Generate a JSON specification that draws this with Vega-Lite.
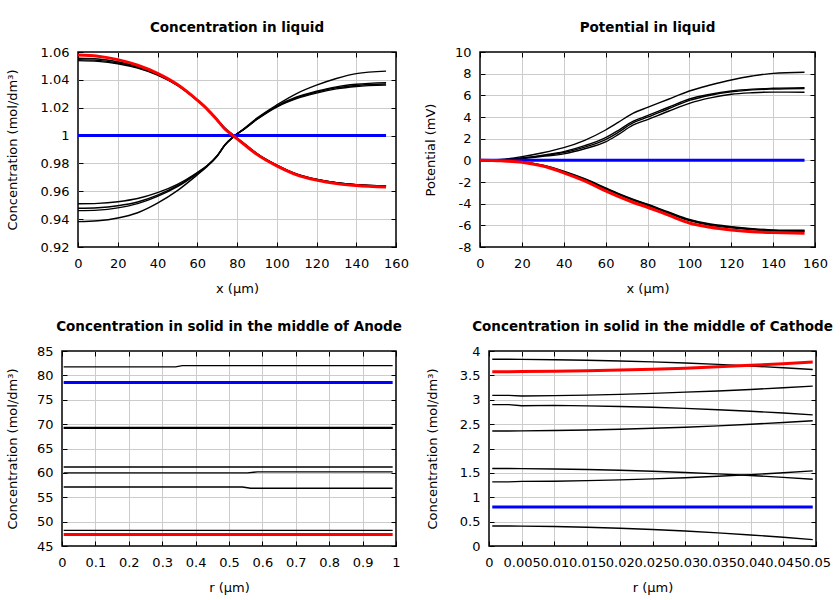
{
  "$schema": "https://vega.github.io/schema/vega-lite/v6.json",
  "background": "white",
  "padding": {"left": 4, "top": 19, "right": 0, "bottom": 0},
  "datasets": {
    "p1": [
      {"s":0,"x":0,"y":1.0},{"s":0,"x":155,"y":1.0},
      {"s":1,"x":0,"y":1.0555},{"s":1,"x":10,"y":1.0550},{"s":1,"x":20,"y":1.0530},{"s":1,"x":30,"y":1.0495},{"s":1,"x":40,"y":1.0442},{"s":1,"x":50,"y":1.0365},{"s":1,"x":60,"y":1.0255},{"s":1,"x":65,"y":1.0191},{"s":1,"x":70,"y":1.0115},{"s":1,"x":74,"y":1.0050},{"s":1,"x":78,"y":1.0003},{"s":1,"x":84,"y":0.9936},{"s":1,"x":90,"y":0.9869},{"s":1,"x":100,"y":0.9786},{"s":1,"x":110,"y":0.9722},{"s":1,"x":120,"y":0.9685},{"s":1,"x":130,"y":0.9661},{"s":1,"x":140,"y":0.9647},{"s":1,"x":155,"y":0.9637},
      {"s":2,"x":0,"y":1.0545},{"s":2,"x":10,"y":1.0540},{"s":2,"x":20,"y":1.0522},{"s":2,"x":30,"y":1.0489},{"s":2,"x":40,"y":1.0438},{"s":2,"x":50,"y":1.0362},{"s":2,"x":60,"y":1.0253},{"s":2,"x":65,"y":1.0190},{"s":2,"x":70,"y":1.0115},{"s":2,"x":74,"y":1.0052},{"s":2,"x":78,"y":1.0005},{"s":2,"x":84,"y":0.9938},{"s":2,"x":90,"y":0.9871},{"s":2,"x":100,"y":0.9788},{"s":2,"x":110,"y":0.9724},{"s":2,"x":120,"y":0.9686},{"s":2,"x":130,"y":0.9662},{"s":2,"x":140,"y":0.9648},{"s":2,"x":155,"y":0.9639},
      {"s":3,"x":0,"y":1.0538},{"s":3,"x":10,"y":1.0533},{"s":3,"x":20,"y":1.0516},{"s":3,"x":30,"y":1.0484},{"s":3,"x":40,"y":1.0434},{"s":3,"x":50,"y":1.0360},{"s":3,"x":60,"y":1.0252},{"s":3,"x":65,"y":1.0189},{"s":3,"x":70,"y":1.0114},{"s":3,"x":74,"y":1.0051},{"s":3,"x":78,"y":1.0004},{"s":3,"x":84,"y":0.9937},{"s":3,"x":90,"y":0.9870},{"s":3,"x":100,"y":0.9787},{"s":3,"x":110,"y":0.9723},{"s":3,"x":120,"y":0.9685},{"s":3,"x":130,"y":0.9661},{"s":3,"x":140,"y":0.9647},{"s":3,"x":155,"y":0.9638},
      {"s":4,"x":0,"y":0.9510},{"s":4,"x":10,"y":0.9513},{"s":4,"x":20,"y":0.9525},{"s":4,"x":30,"y":0.9548},{"s":4,"x":40,"y":0.9590},{"s":4,"x":50,"y":0.9650},{"s":4,"x":60,"y":0.9735},{"s":4,"x":65,"y":0.9785},{"s":4,"x":70,"y":0.9855},{"s":4,"x":74,"y":0.9935},{"s":4,"x":78,"y":0.9990},{"s":4,"x":84,"y":1.0050},{"s":4,"x":90,"y":1.0115},{"s":4,"x":100,"y":1.0205},{"s":4,"x":110,"y":1.0265},{"s":4,"x":120,"y":1.0305},{"s":4,"x":130,"y":1.0335},{"s":4,"x":140,"y":1.0352},{"s":4,"x":155,"y":1.0362},
      {"s":5,"x":0,"y":0.9478},{"s":5,"x":10,"y":0.9482},{"s":5,"x":20,"y":0.9496},{"s":5,"x":30,"y":0.9523},{"s":5,"x":40,"y":0.9572},{"s":5,"x":50,"y":0.9640},{"s":5,"x":60,"y":0.9731},{"s":5,"x":65,"y":0.9783},{"s":5,"x":70,"y":0.9854},{"s":5,"x":74,"y":0.9935},{"s":5,"x":78,"y":0.9990},{"s":5,"x":84,"y":1.0051},{"s":5,"x":90,"y":1.0117},{"s":5,"x":100,"y":1.0209},{"s":5,"x":110,"y":1.0271},{"s":5,"x":120,"y":1.0312},{"s":5,"x":130,"y":1.0343},{"s":5,"x":140,"y":1.0360},{"s":5,"x":155,"y":1.0370},
      {"s":6,"x":0,"y":0.9461},{"s":6,"x":10,"y":0.9465},{"s":6,"x":20,"y":0.9481},{"s":6,"x":30,"y":0.9511},{"s":6,"x":40,"y":0.9563},{"s":6,"x":50,"y":0.9633},{"s":6,"x":60,"y":0.9727},{"s":6,"x":65,"y":0.9781},{"s":6,"x":70,"y":0.9853},{"s":6,"x":74,"y":0.9934},{"s":6,"x":78,"y":0.9989},{"s":6,"x":84,"y":1.0052},{"s":6,"x":90,"y":1.0119},{"s":6,"x":100,"y":1.0212},{"s":6,"x":110,"y":1.0277},{"s":6,"x":120,"y":1.0318},{"s":6,"x":130,"y":1.0350},{"s":6,"x":140,"y":1.0368},{"s":6,"x":155,"y":1.0380},
      {"s":7,"x":0,"y":0.9382},{"s":7,"x":10,"y":0.9388},{"s":7,"x":20,"y":0.9408},{"s":7,"x":30,"y":0.9446},{"s":7,"x":40,"y":0.9515},{"s":7,"x":50,"y":0.9605},{"s":7,"x":60,"y":0.9718},{"s":7,"x":65,"y":0.9778},{"s":7,"x":70,"y":0.9851},{"s":7,"x":74,"y":0.9932},{"s":7,"x":78,"y":0.9987},{"s":7,"x":84,"y":1.0055},{"s":7,"x":90,"y":1.0125},{"s":7,"x":100,"y":1.0220},{"s":7,"x":110,"y":1.0302},{"s":7,"x":120,"y":1.0362},{"s":7,"x":130,"y":1.0410},{"s":7,"x":140,"y":1.0445},{"s":7,"x":155,"y":1.0463},
      {"s":8,"x":0,"y":1.0578},{"s":8,"x":10,"y":1.0570},{"s":8,"x":20,"y":1.0545},{"s":8,"x":30,"y":1.0505},{"s":8,"x":40,"y":1.0447},{"s":8,"x":50,"y":1.0367},{"s":8,"x":60,"y":1.0255},{"s":8,"x":65,"y":1.0190},{"s":8,"x":70,"y":1.0112},{"s":8,"x":74,"y":1.0045},{"s":8,"x":78,"y":1.0000},{"s":8,"x":84,"y":0.9932},{"s":8,"x":90,"y":0.9865},{"s":8,"x":100,"y":0.9782},{"s":8,"x":110,"y":0.9718},{"s":8,"x":120,"y":0.9680},{"s":8,"x":130,"y":0.9655},{"s":8,"x":140,"y":0.9641},{"s":8,"x":155,"y":0.9630}
    ],
    "p2": [
      {"s":0,"x":0,"y":0},{"s":0,"x":155,"y":0},
      {"s":1,"x":0,"y":0},{"s":1,"x":10,"y":0.08},{"s":1,"x":20,"y":0.34},{"s":1,"x":30,"y":0.70},{"s":1,"x":40,"y":1.17},{"s":1,"x":50,"y":1.85},{"s":1,"x":60,"y":2.80},{"s":1,"x":66,"y":3.50},{"s":1,"x":73,"y":4.34},{"s":1,"x":80,"y":4.88},{"s":1,"x":90,"y":5.64},{"s":1,"x":100,"y":6.40},{"s":1,"x":110,"y":6.95},{"s":1,"x":120,"y":7.42},{"s":1,"x":130,"y":7.78},{"s":1,"x":140,"y":8.03},{"s":1,"x":155,"y":8.13},
      {"s":2,"x":0,"y":0},{"s":2,"x":10,"y":0.05},{"s":2,"x":20,"y":0.22},{"s":2,"x":30,"y":0.48},{"s":2,"x":40,"y":0.80},{"s":2,"x":50,"y":1.35},{"s":2,"x":60,"y":2.10},{"s":2,"x":66,"y":2.75},{"s":2,"x":73,"y":3.60},{"s":2,"x":80,"y":4.12},{"s":2,"x":90,"y":4.90},{"s":2,"x":100,"y":5.66},{"s":2,"x":110,"y":6.10},{"s":2,"x":120,"y":6.40},{"s":2,"x":130,"y":6.57},{"s":2,"x":140,"y":6.65},{"s":2,"x":155,"y":6.71},
      {"s":3,"x":0,"y":0},{"s":3,"x":10,"y":0.05},{"s":3,"x":20,"y":0.20},{"s":3,"x":30,"y":0.43},{"s":3,"x":40,"y":0.72},{"s":3,"x":50,"y":1.22},{"s":3,"x":60,"y":1.92},{"s":3,"x":66,"y":2.58},{"s":3,"x":73,"y":3.46},{"s":3,"x":80,"y":3.98},{"s":3,"x":90,"y":4.76},{"s":3,"x":100,"y":5.53},{"s":3,"x":110,"y":6.01},{"s":3,"x":120,"y":6.32},{"s":3,"x":130,"y":6.50},{"s":3,"x":140,"y":6.58},{"s":3,"x":155,"y":6.63},
      {"s":4,"x":0,"y":0},{"s":4,"x":10,"y":0.04},{"s":4,"x":20,"y":0.17},{"s":4,"x":30,"y":0.37},{"s":4,"x":40,"y":0.60},{"s":4,"x":50,"y":1.07},{"s":4,"x":60,"y":1.70},{"s":4,"x":66,"y":2.37},{"s":4,"x":73,"y":3.24},{"s":4,"x":80,"y":3.76},{"s":4,"x":90,"y":4.53},{"s":4,"x":100,"y":5.26},{"s":4,"x":110,"y":5.76},{"s":4,"x":120,"y":6.10},{"s":4,"x":130,"y":6.24},{"s":4,"x":140,"y":6.30},{"s":4,"x":155,"y":6.28},
      {"s":5,"x":0,"y":0},{"s":5,"x":10,"y":-0.04},{"s":5,"x":20,"y":-0.15},{"s":5,"x":30,"y":-0.45},{"s":5,"x":40,"y":-1.00},{"s":5,"x":50,"y":-1.70},{"s":5,"x":60,"y":-2.55},{"s":5,"x":66,"y":-3.05},{"s":5,"x":73,"y":-3.58},{"s":5,"x":80,"y":-4.05},{"s":5,"x":90,"y":-4.76},{"s":5,"x":100,"y":-5.45},{"s":5,"x":110,"y":-5.88},{"s":5,"x":120,"y":-6.12},{"s":5,"x":130,"y":-6.30},{"s":5,"x":140,"y":-6.42},{"s":5,"x":155,"y":-6.46},
      {"s":6,"x":0,"y":0},{"s":6,"x":10,"y":-0.04},{"s":6,"x":20,"y":-0.16},{"s":6,"x":30,"y":-0.47},{"s":6,"x":40,"y":-1.04},{"s":6,"x":50,"y":-1.74},{"s":6,"x":60,"y":-2.60},{"s":6,"x":66,"y":-3.10},{"s":6,"x":73,"y":-3.63},{"s":6,"x":80,"y":-4.10},{"s":6,"x":90,"y":-4.82},{"s":6,"x":100,"y":-5.51},{"s":6,"x":110,"y":-5.94},{"s":6,"x":120,"y":-6.18},{"s":6,"x":130,"y":-6.36},{"s":6,"x":140,"y":-6.48},{"s":6,"x":155,"y":-6.52},
      {"s":7,"x":0,"y":0},{"s":7,"x":10,"y":-0.05},{"s":7,"x":20,"y":-0.17},{"s":7,"x":30,"y":-0.49},{"s":7,"x":40,"y":-1.07},{"s":7,"x":50,"y":-1.78},{"s":7,"x":60,"y":-2.65},{"s":7,"x":66,"y":-3.15},{"s":7,"x":73,"y":-3.68},{"s":7,"x":80,"y":-4.15},{"s":7,"x":90,"y":-4.87},{"s":7,"x":100,"y":-5.57},{"s":7,"x":110,"y":-6.00},{"s":7,"x":120,"y":-6.23},{"s":7,"x":130,"y":-6.41},{"s":7,"x":140,"y":-6.53},{"s":7,"x":155,"y":-6.57},
      {"s":8,"x":0,"y":0},{"s":8,"x":10,"y":-0.05},{"s":8,"x":20,"y":-0.18},{"s":8,"x":30,"y":-0.53},{"s":8,"x":40,"y":-1.15},{"s":8,"x":50,"y":-1.90},{"s":8,"x":60,"y":-2.82},{"s":8,"x":66,"y":-3.33},{"s":8,"x":73,"y":-3.87},{"s":8,"x":80,"y":-4.33},{"s":8,"x":90,"y":-5.06},{"s":8,"x":100,"y":-5.78},{"s":8,"x":110,"y":-6.18},{"s":8,"x":120,"y":-6.43},{"s":8,"x":130,"y":-6.60},{"s":8,"x":140,"y":-6.67},{"s":8,"x":155,"y":-6.74}
    ],
    "p3": [
      {"s":0,"x":0.005,"y":78.55},{"s":0,"x":0.99,"y":78.55},
      {"s":1,"x":0.005,"y":81.75},{"s":1,"x":0.34,"y":81.75},{"s":1,"x":0.36,"y":82.0},{"s":1,"x":0.99,"y":82.0},
      {"s":2,"x":0.005,"y":69.15},{"s":2,"x":0.99,"y":69.15},
      {"s":3,"x":0.005,"y":69.3},{"s":3,"x":0.99,"y":69.3},
      {"s":4,"x":0.005,"y":61.2},{"s":4,"x":0.99,"y":61.2},
      {"s":5,"x":0.005,"y":60.0},{"s":5,"x":0.555,"y":60.0},{"s":5,"x":0.585,"y":60.2},{"s":5,"x":0.99,"y":60.2},
      {"s":6,"x":0.005,"y":57.1},{"s":6,"x":0.54,"y":57.1},{"s":6,"x":0.565,"y":56.85},{"s":6,"x":0.99,"y":56.85},
      {"s":7,"x":0.005,"y":48.2},{"s":7,"x":0.99,"y":48.2},
      {"s":8,"x":0.005,"y":47.35},{"s":8,"x":0.99,"y":47.35}
    ],
    "p4": [
      {"s":0,"x":0.0005,"y":0.8},{"s":0,"x":0.0495,"y":0.8},
      {"s":1,"x":0.0005,"y":3.83},{"s":1,"x":0.003,"y":3.83},{"s":1,"x":0.005,"y":3.828},{"s":1,"x":0.01,"y":3.821},{"s":1,"x":0.015,"y":3.811},{"s":1,"x":0.02,"y":3.796},{"s":1,"x":0.025,"y":3.776},{"s":1,"x":0.03,"y":3.753},{"s":1,"x":0.035,"y":3.725},{"s":1,"x":0.04,"y":3.693},{"s":1,"x":0.045,"y":3.657},{"s":1,"x":0.0495,"y":3.62},
      {"s":2,"x":0.0005,"y":3.09},{"s":2,"x":0.003,"y":3.09},{"s":2,"x":0.005,"y":3.078},{"s":2,"x":0.01,"y":3.085},{"s":2,"x":0.015,"y":3.095},{"s":2,"x":0.02,"y":3.11},{"s":2,"x":0.025,"y":3.13},{"s":2,"x":0.03,"y":3.157},{"s":2,"x":0.035,"y":3.18},{"s":2,"x":0.04,"y":3.21},{"s":2,"x":0.045,"y":3.245},{"s":2,"x":0.0495,"y":3.28},
      {"s":3,"x":0.0005,"y":2.9},{"s":3,"x":0.003,"y":2.9},{"s":3,"x":0.005,"y":2.876},{"s":3,"x":0.01,"y":2.884},{"s":3,"x":0.015,"y":2.875},{"s":3,"x":0.02,"y":2.862},{"s":3,"x":0.025,"y":2.845},{"s":3,"x":0.03,"y":2.823},{"s":3,"x":0.035,"y":2.795},{"s":3,"x":0.04,"y":2.763},{"s":3,"x":0.045,"y":2.727},{"s":3,"x":0.0495,"y":2.69},
      {"s":4,"x":0.0005,"y":2.36},{"s":4,"x":0.003,"y":2.36},{"s":4,"x":0.005,"y":2.362},{"s":4,"x":0.01,"y":2.369},{"s":4,"x":0.015,"y":2.379},{"s":4,"x":0.02,"y":2.394},{"s":4,"x":0.025,"y":2.414},{"s":4,"x":0.03,"y":2.437},{"s":4,"x":0.035,"y":2.465},{"s":4,"x":0.04,"y":2.497},{"s":4,"x":0.045,"y":2.533},{"s":4,"x":0.0495,"y":2.57},
      {"s":5,"x":0.0005,"y":1.59},{"s":5,"x":0.003,"y":1.59},{"s":5,"x":0.005,"y":1.588},{"s":5,"x":0.01,"y":1.581},{"s":5,"x":0.015,"y":1.57},{"s":5,"x":0.02,"y":1.554},{"s":5,"x":0.025,"y":1.534},{"s":5,"x":0.03,"y":1.509},{"s":5,"x":0.035,"y":1.48},{"s":5,"x":0.04,"y":1.446},{"s":5,"x":0.045,"y":1.408},{"s":5,"x":0.0495,"y":1.37},
      {"s":6,"x":0.0005,"y":1.315},{"s":6,"x":0.003,"y":1.315},{"s":6,"x":0.005,"y":1.325},{"s":6,"x":0.01,"y":1.329},{"s":6,"x":0.015,"y":1.34},{"s":6,"x":0.02,"y":1.356},{"s":6,"x":0.025,"y":1.376},{"s":6,"x":0.03,"y":1.401},{"s":6,"x":0.035,"y":1.43},{"s":6,"x":0.04,"y":1.464},{"s":6,"x":0.045,"y":1.502},{"s":6,"x":0.0495,"y":1.54},
      {"s":7,"x":0.0005,"y":0.41},{"s":7,"x":0.003,"y":0.409},{"s":7,"x":0.005,"y":0.407},{"s":7,"x":0.01,"y":0.399},{"s":7,"x":0.015,"y":0.384},{"s":7,"x":0.02,"y":0.364},{"s":7,"x":0.025,"y":0.339},{"s":7,"x":0.03,"y":0.307},{"s":7,"x":0.035,"y":0.27},{"s":7,"x":0.04,"y":0.227},{"s":7,"x":0.045,"y":0.179},{"s":7,"x":0.0495,"y":0.13},
      {"s":8,"x":0.0005,"y":3.575},{"s":8,"x":0.003,"y":3.575},{"s":8,"x":0.005,"y":3.577},{"s":8,"x":0.01,"y":3.583},{"s":8,"x":0.015,"y":3.593},{"s":8,"x":0.02,"y":3.608},{"s":8,"x":0.025,"y":3.626},{"s":8,"x":0.03,"y":3.648},{"s":8,"x":0.035,"y":3.675},{"s":8,"x":0.04,"y":3.706},{"s":8,"x":0.045,"y":3.74},{"s":8,"x":0.0495,"y":3.775}
    ]
  },
  "columns": 2,
  "align": "none",
  "spacing": {"row": 22, "column": 0},
  "concat": [
    {"width": 1, "height": 1, "data": {"values": []}, "mark": "point", "view": {"stroke": null}},
    {
      "spacing": 13,
      "hconcat": [
        {
          "width": 318, "height": 195,
          "title": "Concentration in liquid",
          "data": {"name": "p1"},
          "layer": [
            {
              "transform": [{"filter": "datum.s > 0 && datum.s < 8"}],
              "mark": {"type": "line", "color": "black", "strokeWidth": 1.4, "interpolate": "monotone"},
              "encoding": {
                "x": {"field": "x", "type": "quantitative", "scale": {"domain": [0, 160], "nice": false, "zero": false}, "axis": {"title": "x (μm)", "values": [0,20,40,60,80,100,120,140,160], "format": "~r"}},
                "y": {"field": "y", "type": "quantitative", "scale": {"domain": [0.92, 1.06], "nice": false, "zero": false}, "axis": {"title": "Concentration (mol/dm³)", "values": [0.92,0.94,0.96,0.98,1,1.02,1.04,1.06], "format": "~r", "titlePadding": 21}},
                "detail": {"field": "s", "type": "nominal"}
              }
            },
            {
              "transform": [{"filter": "datum.s == 0"}],
              "mark": {"type": "line", "color": "#0000ff", "strokeWidth": 3},
              "encoding": {
                "x": {"field": "x", "type": "quantitative", "scale": {"domain": [0, 160], "nice": false, "zero": false}, "axis": {"orient": "top", "labels": false, "title": null, "grid": false, "values": [0,20,40,60,80,100,120,140,160]}},
                "y": {"field": "y", "type": "quantitative", "scale": {"domain": [0.92, 1.06], "nice": false, "zero": false}, "axis": {"orient": "right", "labels": false, "title": null, "grid": false, "values": [0.92,0.94,0.96,0.98,1,1.02,1.04,1.06]}}
              }
            },
            {
              "transform": [{"filter": "datum.s == 8"}],
              "mark": {"type": "line", "color": "#ff0000", "strokeWidth": 3, "interpolate": "monotone"},
              "encoding": {
                "x": {"field": "x", "type": "quantitative", "scale": {"domain": [0, 160], "nice": false, "zero": false}, "axis": null},
                "y": {"field": "y", "type": "quantitative", "scale": {"domain": [0.92, 1.06], "nice": false, "zero": false}, "axis": null}
              }
            }
          ],
          "resolve": {"axis": {"x": "independent", "y": "independent"}}
        },
        {
          "width": 335, "height": 195,
          "title": "Potential in liquid",
          "data": {"name": "p2"},
          "layer": [
            {
              "transform": [{"filter": "datum.s > 0 && datum.s < 8"}],
              "mark": {"type": "line", "color": "black", "strokeWidth": 1.4, "interpolate": "monotone"},
              "encoding": {
                "x": {"field": "x", "type": "quantitative", "scale": {"domain": [0, 160], "nice": false, "zero": false}, "axis": {"title": "x (μm)", "values": [0,20,40,60,80,100,120,140,160], "format": "~r"}},
                "y": {"field": "y", "type": "quantitative", "scale": {"domain": [-8, 10], "nice": false, "zero": false}, "axis": {"title": "Potential (mV)", "values": [-8,-6,-4,-2,0,2,4,6,8,10], "format": "~r", "labelExpr": "replace(datum.label, '−', '-')", "titlePadding": 17}},
                "detail": {"field": "s", "type": "nominal"}
              }
            },
            {
              "transform": [{"filter": "datum.s == 0"}],
              "mark": {"type": "line", "color": "#0000ff", "strokeWidth": 3},
              "encoding": {
                "x": {"field": "x", "type": "quantitative", "scale": {"domain": [0, 160], "nice": false, "zero": false}, "axis": {"orient": "top", "labels": false, "title": null, "grid": false, "values": [0,20,40,60,80,100,120,140,160]}},
                "y": {"field": "y", "type": "quantitative", "scale": {"domain": [-8, 10], "nice": false, "zero": false}, "axis": {"orient": "right", "labels": false, "title": null, "grid": false, "values": [-8,-6,-4,-2,0,2,4,6,8,10]}}
              }
            },
            {
              "transform": [{"filter": "datum.s == 8"}],
              "mark": {"type": "line", "color": "#ff0000", "strokeWidth": 3, "interpolate": "monotone"},
              "encoding": {
                "x": {"field": "x", "type": "quantitative", "scale": {"domain": [0, 160], "nice": false, "zero": false}, "axis": null},
                "y": {"field": "y", "type": "quantitative", "scale": {"domain": [-8, 10], "nice": false, "zero": false}, "axis": null}
              }
            }
          ],
          "resolve": {"axis": {"x": "independent", "y": "independent"}}
        }
      ]
    },
    {"width": 1, "height": 1, "data": {"values": []}, "mark": "point", "view": {"stroke": null}},
    {
      "spacing": 22,
      "hconcat": [
        {
          "width": 334, "height": 195,
          "title": "Concentration in solid in the middle of Anode",
          "data": {"name": "p3"},
          "layer": [
            {
              "transform": [{"filter": "datum.s > 0 && datum.s < 8"}],
              "mark": {"type": "line", "color": "black", "strokeWidth": 1.4},
              "encoding": {
                "x": {"field": "x", "type": "quantitative", "scale": {"domain": [0, 1], "nice": false, "zero": false}, "axis": {"title": "r (μm)", "values": [0,0.1,0.2,0.3,0.4,0.5,0.6,0.7,0.8,0.9,1], "format": "~r"}},
                "y": {"field": "y", "type": "quantitative", "scale": {"domain": [45, 85], "nice": false, "zero": false}, "axis": {"title": "Concentration (mol/dm³)", "values": [45,50,55,60,65,70,75,80,85], "format": "~r", "titlePadding": 17}},
                "detail": {"field": "s", "type": "nominal"}
              }
            },
            {
              "transform": [{"filter": "datum.s == 0"}],
              "mark": {"type": "line", "color": "#0000ff", "strokeWidth": 3},
              "encoding": {
                "x": {"field": "x", "type": "quantitative", "scale": {"domain": [0, 1], "nice": false, "zero": false}, "axis": {"orient": "top", "labels": false, "title": null, "grid": false, "values": [0,0.1,0.2,0.3,0.4,0.5,0.6,0.7,0.8,0.9,1]}},
                "y": {"field": "y", "type": "quantitative", "scale": {"domain": [45, 85], "nice": false, "zero": false}, "axis": {"orient": "right", "labels": false, "title": null, "grid": false, "values": [45,50,55,60,65,70,75,80,85]}}
              }
            },
            {
              "transform": [{"filter": "datum.s == 8"}],
              "mark": {"type": "line", "color": "#ff0000", "strokeWidth": 3},
              "encoding": {
                "x": {"field": "x", "type": "quantitative", "scale": {"domain": [0, 1], "nice": false, "zero": false}, "axis": null},
                "y": {"field": "y", "type": "quantitative", "scale": {"domain": [45, 85], "nice": false, "zero": false}, "axis": null}
              }
            }
          ],
          "resolve": {"axis": {"x": "independent", "y": "independent"}}
        },
        {
          "width": 327, "height": 195,
          "title": "Concentration in solid in the middle of Cathode",
          "data": {"name": "p4"},
          "layer": [
            {
              "transform": [{"filter": "datum.s > 0 && datum.s < 8"}],
              "mark": {"type": "line", "color": "black", "strokeWidth": 1.4},
              "encoding": {
                "x": {"field": "x", "type": "quantitative", "scale": {"domain": [0, 0.05], "nice": false, "zero": false}, "axis": {"title": "r (μm)", "values": [0,0.005,0.01,0.015,0.02,0.025,0.03,0.035,0.04,0.045,0.05], "format": "~r"}},
                "y": {"field": "y", "type": "quantitative", "scale": {"domain": [0, 4], "nice": false, "zero": false}, "axis": {"title": "Concentration (mol/dm³)", "values": [0,0.5,1,1.5,2,2.5,3,3.5,4], "format": "~r", "titlePadding": 20}},
                "detail": {"field": "s", "type": "nominal"}
              }
            },
            {
              "transform": [{"filter": "datum.s == 0"}],
              "mark": {"type": "line", "color": "#0000ff", "strokeWidth": 3},
              "encoding": {
                "x": {"field": "x", "type": "quantitative", "scale": {"domain": [0, 0.05], "nice": false, "zero": false}, "axis": {"orient": "top", "labels": false, "title": null, "grid": false, "values": [0,0.005,0.01,0.015,0.02,0.025,0.03,0.035,0.04,0.045,0.05]}},
                "y": {"field": "y", "type": "quantitative", "scale": {"domain": [0, 4], "nice": false, "zero": false}, "axis": {"orient": "right", "labels": false, "title": null, "grid": false, "values": [0,0.5,1,1.5,2,2.5,3,3.5,4]}}
              }
            },
            {
              "transform": [{"filter": "datum.s == 8"}],
              "mark": {"type": "line", "color": "#ff0000", "strokeWidth": 3},
              "encoding": {
                "x": {"field": "x", "type": "quantitative", "scale": {"domain": [0, 0.05], "nice": false, "zero": false}, "axis": null},
                "y": {"field": "y", "type": "quantitative", "scale": {"domain": [0, 4], "nice": false, "zero": false}, "axis": null}
              }
            }
          ],
          "resolve": {"axis": {"x": "independent", "y": "independent"}}
        }
      ]
    }
  ],
  "config": {
    "font": "DejaVu Sans",
    "view": {"stroke": "black", "strokeWidth": 1.5},
    "axis": {
      "labelFont": "DejaVu Sans", "labelFontSize": 13, "labelColor": "black",
      "titleFont": "DejaVu Sans", "titleFontSize": 13, "titleFontWeight": "normal", "titleColor": "black",
      "gridColor": "#cccccc", "gridWidth": 1,
      "gridOpacity": {"condition": {"test": "datum.index == 0 || datum.index == 1", "value": 0}, "value": 1},
      "domain": false, "tickColor": "black", "tickSize": -5, "tickWidth": 1,
      "labelFlush": false, "labelOverlap": false, "labelPadding": 15, "titlePadding": 12
    },
    "axisY": {"labelPadding": 14},
    "title": {"font": "DejaVu Sans", "fontSize": 13.5, "fontWeight": "bold", "color": "black", "anchor": "middle", "frame": "group", "offset": 12}
  }
}
